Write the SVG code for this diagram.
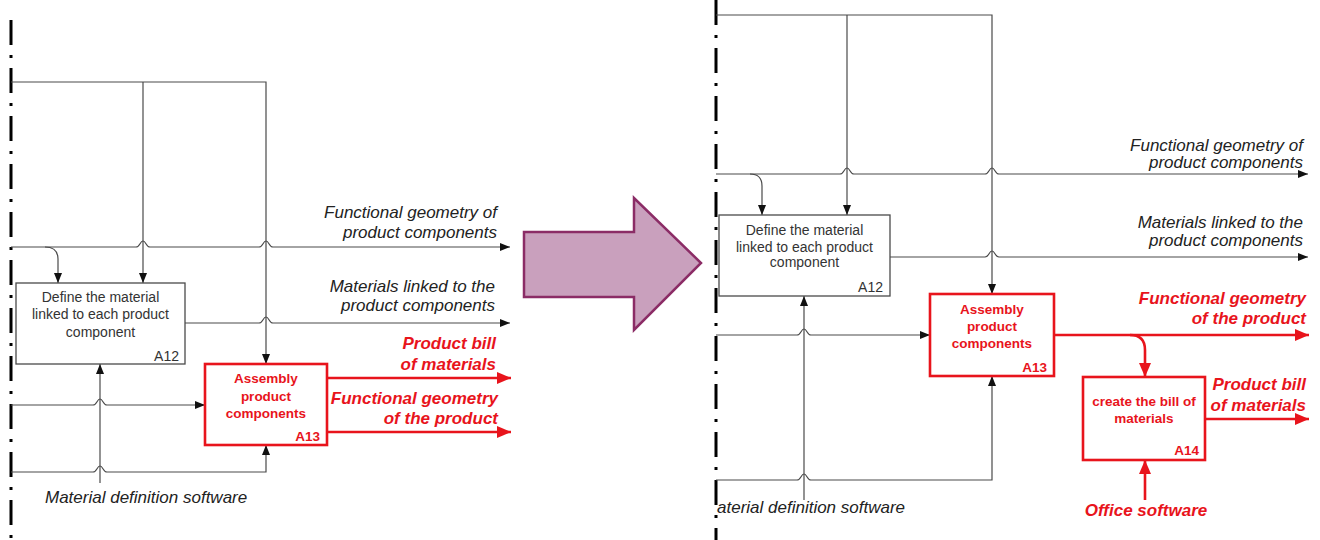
<svg xmlns="http://www.w3.org/2000/svg" width="1320" height="540" viewBox="0 0 1320 540">
<style>
.ln{fill:none;stroke:#4a4a4a;stroke-width:1.2}
.rl{fill:none;stroke:#e8141c;stroke-width:2.6}
.bx{fill:#fff;stroke:#4a4a4a;stroke-width:1.3}
.rbx{fill:#fff;stroke:#e8141c;stroke-width:2.6}
.dd{fill:none;stroke:#000;stroke-width:3;stroke-dasharray:25 10 3 10}
.bt{font-family:"Liberation Sans",Arial,sans-serif;font-size:14px;fill:#333;text-anchor:middle}
.rt{font-family:"Liberation Sans",Arial,sans-serif;font-size:13.5px;font-weight:bold;fill:#e8141c;text-anchor:middle}
.id{font-family:"Liberation Sans",Arial,sans-serif;font-size:14px;fill:#333;text-anchor:end}
.rid{font-family:"Liberation Sans",Arial,sans-serif;font-size:13.5px;font-weight:bold;fill:#e8141c;text-anchor:end}
.lb{font-family:"Liberation Sans",Arial,sans-serif;font-size:17px;font-style:italic;fill:#222;text-anchor:end}
.rlb{font-family:"Liberation Sans",Arial,sans-serif;font-size:17px;font-style:italic;font-weight:bold;fill:#e8141c;text-anchor:end}
</style>
<defs>
<marker id="ab" markerUnits="userSpaceOnUse" markerWidth="11" markerHeight="9" refX="10" refY="4" orient="auto"><path d="M0,0 L10,4 L0,8 z" fill="#111"/></marker>
<marker id="ar" markerUnits="userSpaceOnUse" markerWidth="15" markerHeight="13" refX="14" refY="6" orient="auto"><path d="M0,0 L14,6 L0,12 z" fill="#e8141c"/></marker>
</defs>
<rect width="1320" height="540" fill="#fff"/>

<g id="boundaries">
<line class="dd" x1="11" y1="20" x2="11" y2="540"/>
<line class="dd" x1="716" y1="0" x2="716" y2="540"/>
</g>

<g id="transition-arrow">
<polygon points="524,232 634,232 634,198 701,263 634,330 634,297 524,297" fill="#c9a0bd" stroke="#8b2c66" stroke-width="2.5" stroke-linejoin="miter"/>
</g>

<g id="connectors">
<!-- left diagram -->
<path class="ln" d="M11 82 L266 82 L266 364" marker-end="url(#ab)"/>
<path class="ln" d="M143 82 L143 283" marker-end="url(#ab)"/>
<path class="ln" d="M11 247 L136 247 C140 247 140 241 143 241 C146 241 146 247 150 247 L259 247 C263 247 263 241 266 241 C269 241 269 247 273 247 L510 247" marker-end="url(#ab)"/>
<path class="ln" d="M45 247 Q58 247 58 259 L58 283" marker-end="url(#ab)"/>
<path class="ln" d="M185 323 L259 323 C263 323 263 317 266 317 C269 317 269 323 273 323 L510 323" marker-end="url(#ab)"/>
<path class="ln" d="M11 405 L93 405 C97 405 97 399 100 399 C103 399 103 405 107 405 L205 405" marker-end="url(#ab)"/>
<path class="ln" d="M100 483 L100 364" marker-end="url(#ab)"/>
<path class="ln" d="M11 472 L93 472 C97 472 97 466 100 466 C103 466 103 472 107 472 L266 472 L266 445" marker-end="url(#ab)"/>
<path class="rl" d="M327 378 L511 378" marker-end="url(#ar)"/>
<path class="rl" d="M327 432 L511 432" marker-end="url(#ar)"/>
<!-- right diagram -->
<path class="ln" d="M716 15 L992 15 L992 294" marker-end="url(#ab)"/>
<path class="ln" d="M847 15 L847 215" marker-end="url(#ab)"/>
<path class="ln" d="M716 174 L840 174 C844 174 844 168 847 168 C850 168 850 174 854 174 L985 174 C989 174 989 168 992 168 C995 168 995 174 999 174 L1308 174" marker-end="url(#ab)"/>
<path class="ln" d="M750 174 Q762 174 762 186 L762 215" marker-end="url(#ab)"/>
<path class="ln" d="M890 257 L985 257 C989 257 989 251 992 251 C995 251 995 257 999 257 L1308 257" marker-end="url(#ab)"/>
<path class="ln" d="M716 335 L797 335 C801 335 801 329 804 329 C807 329 807 335 811 335 L930 335" marker-end="url(#ab)"/>
<path class="ln" d="M804 500 L804 296" marker-end="url(#ab)"/>
<path class="ln" d="M716 480 L797 480 C801 480 801 474 804 474 C807 474 807 480 811 480 L992 480 L992 376" marker-end="url(#ab)"/>
<path class="rl" d="M1054 335 L1309 335" marker-end="url(#ar)"/>
<path class="rl" d="M1130 335 Q1145 335 1145 350 L1145 377" marker-end="url(#ar)"/>
<path class="rl" d="M1205 419 L1309 419" marker-end="url(#ar)"/>
<path class="rl" d="M1145 500 L1145 460" marker-end="url(#ar)"/>
</g>

<g id="labels">
<text class="lb" x="497" y="218">Functional geometry of</text>
<text class="lb" x="497" y="238">product components</text>
<text class="lb" x="495" y="292">Materials linked to the</text>
<text class="lb" x="495" y="311">product components</text>
<text class="rlb" x="496" y="349">Product bill</text>
<text class="rlb" x="496" y="370">of materials</text>
<text class="rlb" x="498" y="404">Functional geometry</text>
<text class="rlb" x="498" y="424">of the product</text>
<text class="lb" x="45" y="503" style="text-anchor:start">Material definition software</text>

<text class="lb" x="1303" y="151">Functional geometry of</text>
<text class="lb" x="1303" y="168">product components</text>
<text class="lb" x="1303" y="228">Materials linked to the</text>
<text class="lb" x="1303" y="246">product components</text>
<text class="rlb" x="1306" y="304">Functional geometry</text>
<text class="rlb" x="1306" y="324">of the product</text>
<text class="rlb" x="1306" y="390">Product bill</text>
<text class="rlb" x="1306" y="411">of materials</text>
<text class="rlb" x="1146" y="516" style="text-anchor:middle">Office software</text>
<text class="lb" x="717" y="513" style="text-anchor:start">aterial definition software</text>
</g>

<g id="A12-left">
<rect class="bx" x="16" y="283" width="169" height="81"/>
<text class="bt" x="100.5" y="302">Define the material</text>
<text class="bt" x="100.5" y="319">linked to each product</text>
<text class="bt" x="100.5" y="337">component</text>
<text class="id" x="179" y="361">A12</text>
</g>

<g id="A13-left">
<rect class="rbx" x="205" y="364" width="122" height="81"/>
<text class="rt" x="266" y="383">Assembly</text>
<text class="rt" x="266" y="401">product</text>
<text class="rt" x="266" y="418">components</text>
<text class="rid" x="320" y="441">A13</text>
</g>

<g id="A12-right">
<rect class="bx" x="719" y="215" width="171" height="81"/>
<text class="bt" x="804.5" y="235">Define the material</text>
<text class="bt" x="804.5" y="252">linked to each product</text>
<text class="bt" x="804.5" y="267">component</text>
<text class="id" x="883" y="292">A12</text>
</g>

<g id="A13-right">
<rect class="rbx" x="930" y="294" width="124" height="82"/>
<text class="rt" x="992" y="314">Assembly</text>
<text class="rt" x="992" y="331">product</text>
<text class="rt" x="992" y="348">components</text>
<text class="rid" x="1047" y="372">A13</text>
</g>

<g id="A14-right">
<rect class="rbx" x="1083" y="377" width="122" height="83"/>
<text class="rt" x="1144" y="406">create the bill of</text>
<text class="rt" x="1144" y="423">materials</text>
<text class="rid" x="1199" y="455">A14</text>
</g>
</svg>
